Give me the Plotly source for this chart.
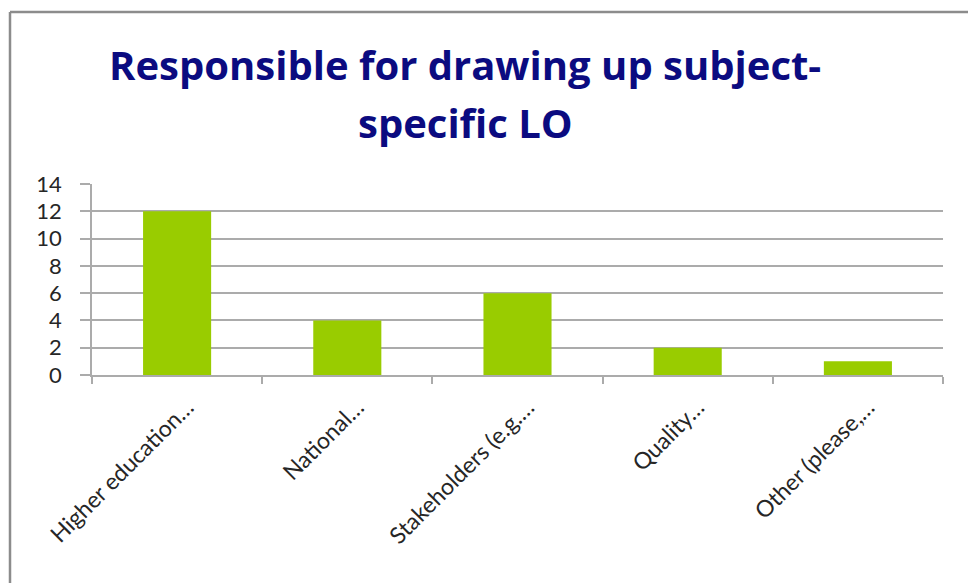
import plotly.graph_objects as go

# Survey responses: who draws up subject-specific learning outcomes
categories = [
    "Higher education…",
    "National…",
    "Stakeholders (e.g.…",
    "Quality…",
    "Other (please,…",
]
counts = [12, 4, 6, 2, 1]

y_ticks = [0, 2, 4, 6, 8, 10, 12, 14]
title_lines = ["Responsible for drawing up subject-", "specific LO"]

W, H = 968, 583
left, right, top, bottom = 92, 25, 184, 208
plot_w = W - left - right
plot_h = H - top - bottom


def px_x(x):
    return (x - left) / plot_w


def px_y(y):
    return (H - bottom - y) / plot_h


fig = go.Figure(
    go.Bar(
        x=categories,
        y=counts,
        marker=dict(color="#99CC00", line=dict(width=0)),
        width=0.4,
    )
)

grid_col = "#ababab"
fig.update_layout(
    width=W,
    height=H,
    margin=dict(l=left, r=right, t=top, b=bottom),
    paper_bgcolor="white",
    plot_bgcolor="white",
    showlegend=False,
    font=dict(family="Lato", color="#262626"),
)

fig.update_xaxes(
    type="category",
    showline=True,
    linecolor=grid_col,
    linewidth=1.5,
    ticks="outside",
    tickson="boundaries",
    ticklen=7,
    tickcolor=grid_col,
    tickwidth=1.5,
    tickangle=-45,
    tickfont=dict(size=23, family="Lato", color="#262626"),
    ticklabelshift=10,
    ticklabelstandoff=8,
    showgrid=False,
)

fig.update_yaxes(
    range=[0, 14],
    tickvals=y_ticks,
    showline=True,
    linecolor=grid_col,
    linewidth=1.5,
    ticks="outside",
    ticklen=10,
    tickcolor=grid_col,
    tickwidth=1.5,
    showgrid=True,
    gridcolor=grid_col,
    gridwidth=1.5,
    zeroline=False,
    tickfont=dict(size=22, family="Lato", color="#262626"),
    ticklabelstandoff=14,
)

# Title, one annotation per line
for line, ypos in zip(title_lines, [64, 123]):
    fig.add_annotation(
        text=f"<b>{line}</b>",
        xref="paper",
        yref="paper",
        x=px_x(465),
        y=px_y(ypos),
        xanchor="center",
        yanchor="middle",
        showarrow=False,
        font=dict(family="Open Sans", size=40, color="#0B0B80"),
    )

# Chart frame (left and top edges)
frame = dict(color="#8c8c8c", width=2.5)
fig.add_shape(type="line", xref="paper", yref="paper",
              x0=px_x(10), x1=px_x(10), y0=px_y(12), y1=px_y(H + 10), line=frame)
fig.add_shape(type="line", xref="paper", yref="paper",
              x0=px_x(10), x1=px_x(W + 10), y0=px_y(12), y1=px_y(12), line=frame)

fig.write_html("out.html")
